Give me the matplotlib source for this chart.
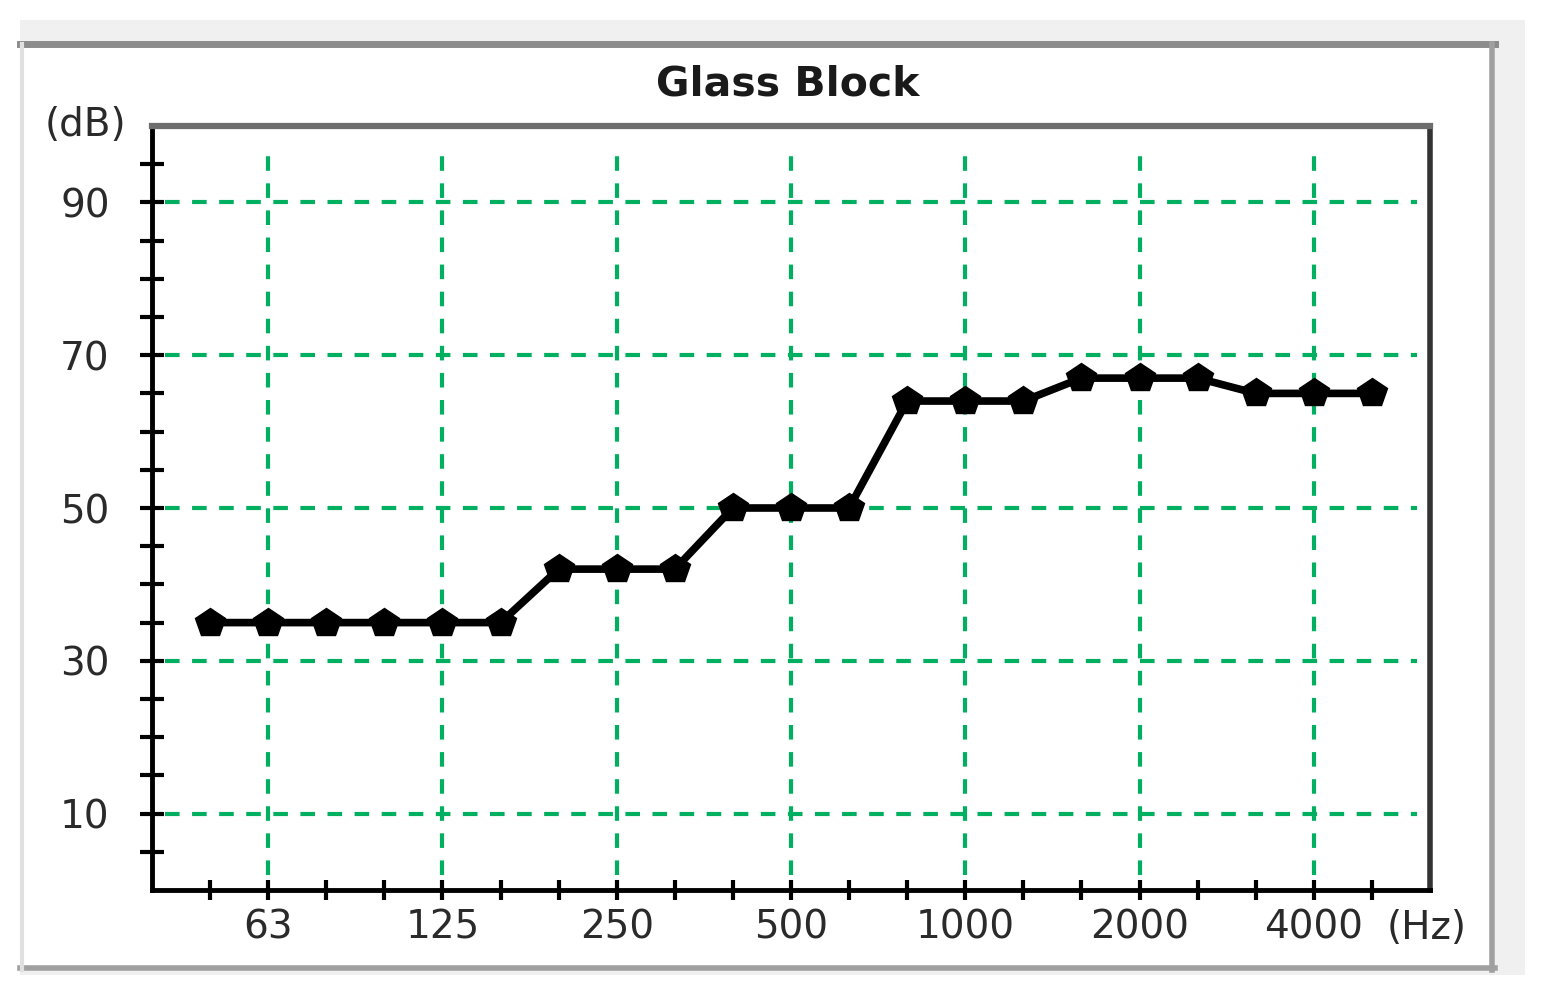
import matplotlib.pyplot as plt
from matplotlib.patches import Rectangle

# third-octave bands and sound insulation values
bands = ['50', '63', '80', '100', '125', '160', '200', '250', '315', '400', '500',
         '630', '800', '1000', '1250', '1600', '2000', '2500', '3150', '4000', '5000']
db_values = [35, 35, 35, 35, 35, 35, 42, 42, 42, 50, 50,
             50, 64, 64, 64, 67, 67, 67, 65, 65, 65]
shown_bands = ['63', '125', '250', '500', '1000', '2000', '4000']
y_labels = [10, 30, 50, 70, 90]
y_minor = list(range(5, 100, 5))

W, H = 1544, 1002
fig = plt.figure(figsize=(W / 100, H / 100), dpi=100)

def px(x0, y0, x1, y1):
    # pixel box (top-left origin) -> figure fraction rect
    return (x0 / W, 1 - y1 / H), (x1 - x0) / W, (y1 - y0) / H

# window frame behind the chart
for box, fc in [((20, 20, 1525, 975), '#f0f0f0'), ((20, 42, 1495, 970), 'white')]:
    xy, w, h = px(*box)
    fig.add_artist(Rectangle(xy, w, h, transform=fig.transFigure, fc=fc, ec='none', zorder=-5))
fig.add_artist(plt.Line2D([20 / W, 1495 / W], [1 - 44 / H] * 2, color='#8c8c8c', lw=5, zorder=-4))
fig.add_artist(plt.Line2D([1492 / W] * 2, [1 - 44 / H, 1 - 970 / H], color='#a0a0a0', lw=4, zorder=-4))
fig.add_artist(plt.Line2D([20 / W, 1495 / W], [1 - 968 / H] * 2, color='#a0a0a0', lw=4, zorder=-4))
fig.add_artist(plt.Line2D([22 / W] * 2, [1 - 44 / H, 1 - 970 / H], color='#e0e0e0', lw=3, zorder=-4))

ax = fig.add_axes([152 / W, 1 - 890 / H, (1430 - 152) / W, (890 - 126) / H])
x = list(range(len(bands)))

ax.plot(x, db_values, color='black', lw=5.5, marker='p', markersize=22,
        solid_joinstyle='round', zorder=3)

ax.set_xlim(-1, len(bands))
ax.set_ylim(0, 100)

# grid only at labelled positions
for b in shown_bands:
    ax.axvline(bands.index(b), ymin=0.02, ymax=0.97, color='#00b060', lw=3,
               dashes=(3.5, 3), zorder=1)
for v in y_labels:
    ax.axhline(v, xmin=0.01, xmax=0.99, color='#00b060', lw=3,
               dashes=(3.5, 3), zorder=1)

ax.set_xticks(x)
ax.set_xticklabels([b if b in shown_bands else '' for b in bands])
ax.set_yticks(y_minor)
ax.set_yticklabels([str(v) if v in y_labels else '' for v in y_minor])
ax.tick_params(axis='both', direction='inout', width=3, colors='black',
               labelcolor='#2a2a2a', labelsize=28)
ax.tick_params(axis='y', length=17, pad=22)
ax.tick_params(axis='x', length=15, pad=6)

for s in ['left', 'bottom']:
    ax.spines[s].set_linewidth(3.5)
    ax.spines[s].set_color('black')
ax.spines['top'].set_linewidth(4.5)
ax.spines['top'].set_color('#6e6e6e')
ax.spines['right'].set_linewidth(4)
ax.spines['right'].set_color('#333333')

fig.text(788 / W, 1 - 84 / H, 'Glass Block', ha='center', va='center',
         fontsize=29.5, fontweight='bold', color='#1a1a1a')
fig.text(85 / W, 1 - 125 / H, '(dB)', ha='center', va='center', fontsize=28, color='#2a2a2a')
fig.text(1427 / W, 1 - 928 / H, '(Hz)', ha='center', va='center', fontsize=28, color='#2a2a2a')

fig.savefig('out.png', dpi=100)
